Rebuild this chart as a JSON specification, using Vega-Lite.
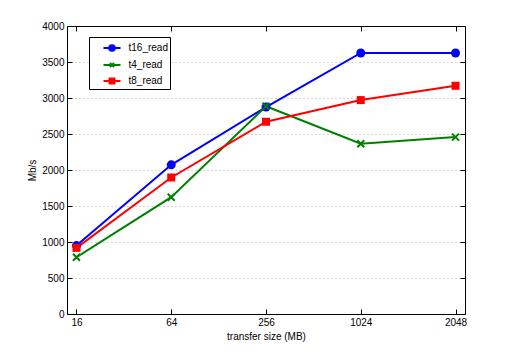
{
  "$schema": "https://vega.github.io/schema/vega-lite/v6.json",
  "width": 398,
  "height": 288,
  "autosize": {"type": "none"},
  "padding": {"left": 67, "top": 26, "right": 49, "bottom": 40},
  "background": "white",
  "config": {
    "font": "Liberation Sans",
    "view": {"stroke": null},
    "axis": {
      "labelFont": "Liberation Sans",
      "titleFont": "Liberation Sans",
      "labelFontSize": 10,
      "titleFontSize": 10,
      "labelColor": "black",
      "titleColor": "black",
      "titleFontWeight": "normal",
      "domainColor": "black",
      "tickColor": "black",
      "tickSize": -5,
      "labelPadding": 8
    }
  },
  "data": {
    "values": [
      {"size": "16", "series": "t16_read", "value": 950},
      {"size": "64", "series": "t16_read", "value": 2072},
      {"size": "256", "series": "t16_read", "value": 2874},
      {"size": "1024", "series": "t16_read", "value": 3625},
      {"size": "2048", "series": "t16_read", "value": 3625},
      {"size": "16", "series": "t4_read", "value": 788},
      {"size": "64", "series": "t4_read", "value": 1622},
      {"size": "256", "series": "t4_read", "value": 2885},
      {"size": "1024", "series": "t4_read", "value": 2364},
      {"size": "2048", "series": "t4_read", "value": 2457},
      {"size": "16", "series": "t8_read", "value": 918},
      {"size": "64", "series": "t8_read", "value": 1896},
      {"size": "256", "series": "t8_read", "value": 2670},
      {"size": "1024", "series": "t8_read", "value": 2971},
      {"size": "2048", "series": "t8_read", "value": 3170}
    ]
  },
  "resolve": {"axis": {"x": "independent", "y": "independent"}},
  "layer": [
    {
      "mark": {"type": "point", "opacity": 0, "filled": true},
      "encoding": {
        "x": {
          "field": "size",
          "type": "ordinal",
          "sort": ["16", "64", "256", "1024", "2048"],
          "scale": {"type": "point", "padding": 0.1},
          "axis": {"orient": "top", "labels": false, "title": null, "grid": false, "tickSize": -5}
        },
        "y": {
          "field": "value",
          "type": "quantitative",
          "scale": {"domain": [0, 4000], "nice": false},
          "axis": {"orient": "right", "labels": false, "title": null, "grid": false, "tickSize": -5,
                   "values": [0, 500, 1000, 1500, 2000, 2500, 3000, 3500, 4000]}
        },
        "shape": {
          "field": "series",
          "type": "nominal",
          "scale": {
            "domain": ["t16_read", "t4_read", "t8_read"],
            "range": [
              "M-1,0H-0.33M0.33,0H1M-0.33,0A0.33,0.33 0 1,1 0.33,0A0.33,0.33 0 1,1 -0.33,0Z",
              "M-1,0H1M-0.24,-0.24L0.24,0.24M-0.24,0.24L0.24,-0.24",
              "M-1,0H-0.29M0.29,0H1M-0.29,-0.29H0.29V0.29H-0.29Z"
            ]
          },
          "legend": {
            "title": null,
            "orient": "none",
            "legendX": 22,
            "legendY": 11,
            "padding": 1.5,
            "strokeColor": "black",
            "fillColor": "white",
            "cornerRadius": 0,
            "labelFont": "Liberation Sans",
            "labelFontSize": 10,
            "labelColor": "black",
            "symbolSize": 289,
            "symbolOffset": 12,
            "labelOffset": 7,
            "rowPadding": 0,
            "symbolStrokeWidth": 2,
            "symbolOpacity": 1,
            "encode": {
              "symbols": {
                "update": {
                  "size": {"value": 900},
                  "strokeWidth": {"value": 2},
                  "stroke": {"signal": "scale('color', datum.value)"},
                  "fill": {"signal": "scale('color', datum.value)"},
                  "opacity": {"value": 1}
                }
              }
            }
          }
        },
        "color": {
          "field": "series",
          "type": "nominal",
          "scale": {"domain": ["t16_read", "t4_read", "t8_read"], "range": ["#0000ff", "#008000", "#ff0000"]}
        }
      }
    },
    {
      "mark": {"type": "line", "strokeWidth": 2},
      "encoding": {
        "x": {
          "field": "size",
          "type": "ordinal",
          "sort": ["16", "64", "256", "1024", "2048"],
          "scale": {"type": "point", "padding": 0.1},
          "axis": {
            "title": "transfer size (MB)",
            "labelAngle": 0,
            "grid": false,
            "titleY": 22,
            "titleBaseline": "middle"
          }
        },
        "y": {
          "field": "value",
          "type": "quantitative",
          "scale": {"domain": [0, 4000], "nice": false},
          "axis": {
            "title": "Mb/s",
            "format": "d",
            "values": [0, 500, 1000, 1500, 2000, 2500, 3000, 3500, 4000],
            "grid": true,
            "gridDash": [1, 3],
            "gridColor": "#b0b0b0",
            "titleX": -35,
            "titleY": 144,
            "titleAlign": "center",
            "titleBaseline": "middle",
            "titleAngle": -90
          }
        },
        "color": {
          "field": "series",
          "type": "nominal",
          "scale": {"domain": ["t16_read", "t4_read", "t8_read"], "range": ["#0000ff", "#008000", "#ff0000"]}
        }
      }
    },
    {
      "transform": [{"filter": "datum.series == 't16_read'"}],
      "mark": {"type": "point", "filled": true, "opacity": 1, "size": 81, "shape": "circle"},
      "encoding": {
        "x": {"field": "size", "type": "ordinal", "sort": ["16", "64", "256", "1024", "2048"], "scale": {"type": "point", "padding": 0.1}, "axis": null},
        "y": {"field": "value", "type": "quantitative", "scale": {"domain": [0, 4000], "nice": false}, "axis": null},
        "color": {"field": "series", "type": "nominal", "scale": {"domain": ["t16_read", "t4_read", "t8_read"], "range": ["#0000ff", "#008000", "#ff0000"]}}
      }
    },
    {
      "transform": [{"filter": "datum.series == 't4_read'"}],
      "mark": {"type": "point", "filled": false, "opacity": 1, "size": 49, "strokeWidth": 2, "shape": "M-1,-1L1,1M-1,1L1,-1"},
      "encoding": {
        "x": {"field": "size", "type": "ordinal", "sort": ["16", "64", "256", "1024", "2048"], "scale": {"type": "point", "padding": 0.1}, "axis": null},
        "y": {"field": "value", "type": "quantitative", "scale": {"domain": [0, 4000], "nice": false}, "axis": null},
        "color": {"field": "series", "type": "nominal", "scale": {"domain": ["t16_read", "t4_read", "t8_read"], "range": ["#0000ff", "#008000", "#ff0000"]}}
      }
    },
    {
      "transform": [{"filter": "datum.series == 't8_read'"}],
      "mark": {"type": "point", "filled": true, "opacity": 1, "size": 64, "shape": "square"},
      "encoding": {
        "x": {"field": "size", "type": "ordinal", "sort": ["16", "64", "256", "1024", "2048"], "scale": {"type": "point", "padding": 0.1}, "axis": null},
        "y": {"field": "value", "type": "quantitative", "scale": {"domain": [0, 4000], "nice": false}, "axis": null},
        "color": {"field": "series", "type": "nominal", "scale": {"domain": ["t16_read", "t4_read", "t8_read"], "range": ["#0000ff", "#008000", "#ff0000"]}}
      }
    }
  ]
}
